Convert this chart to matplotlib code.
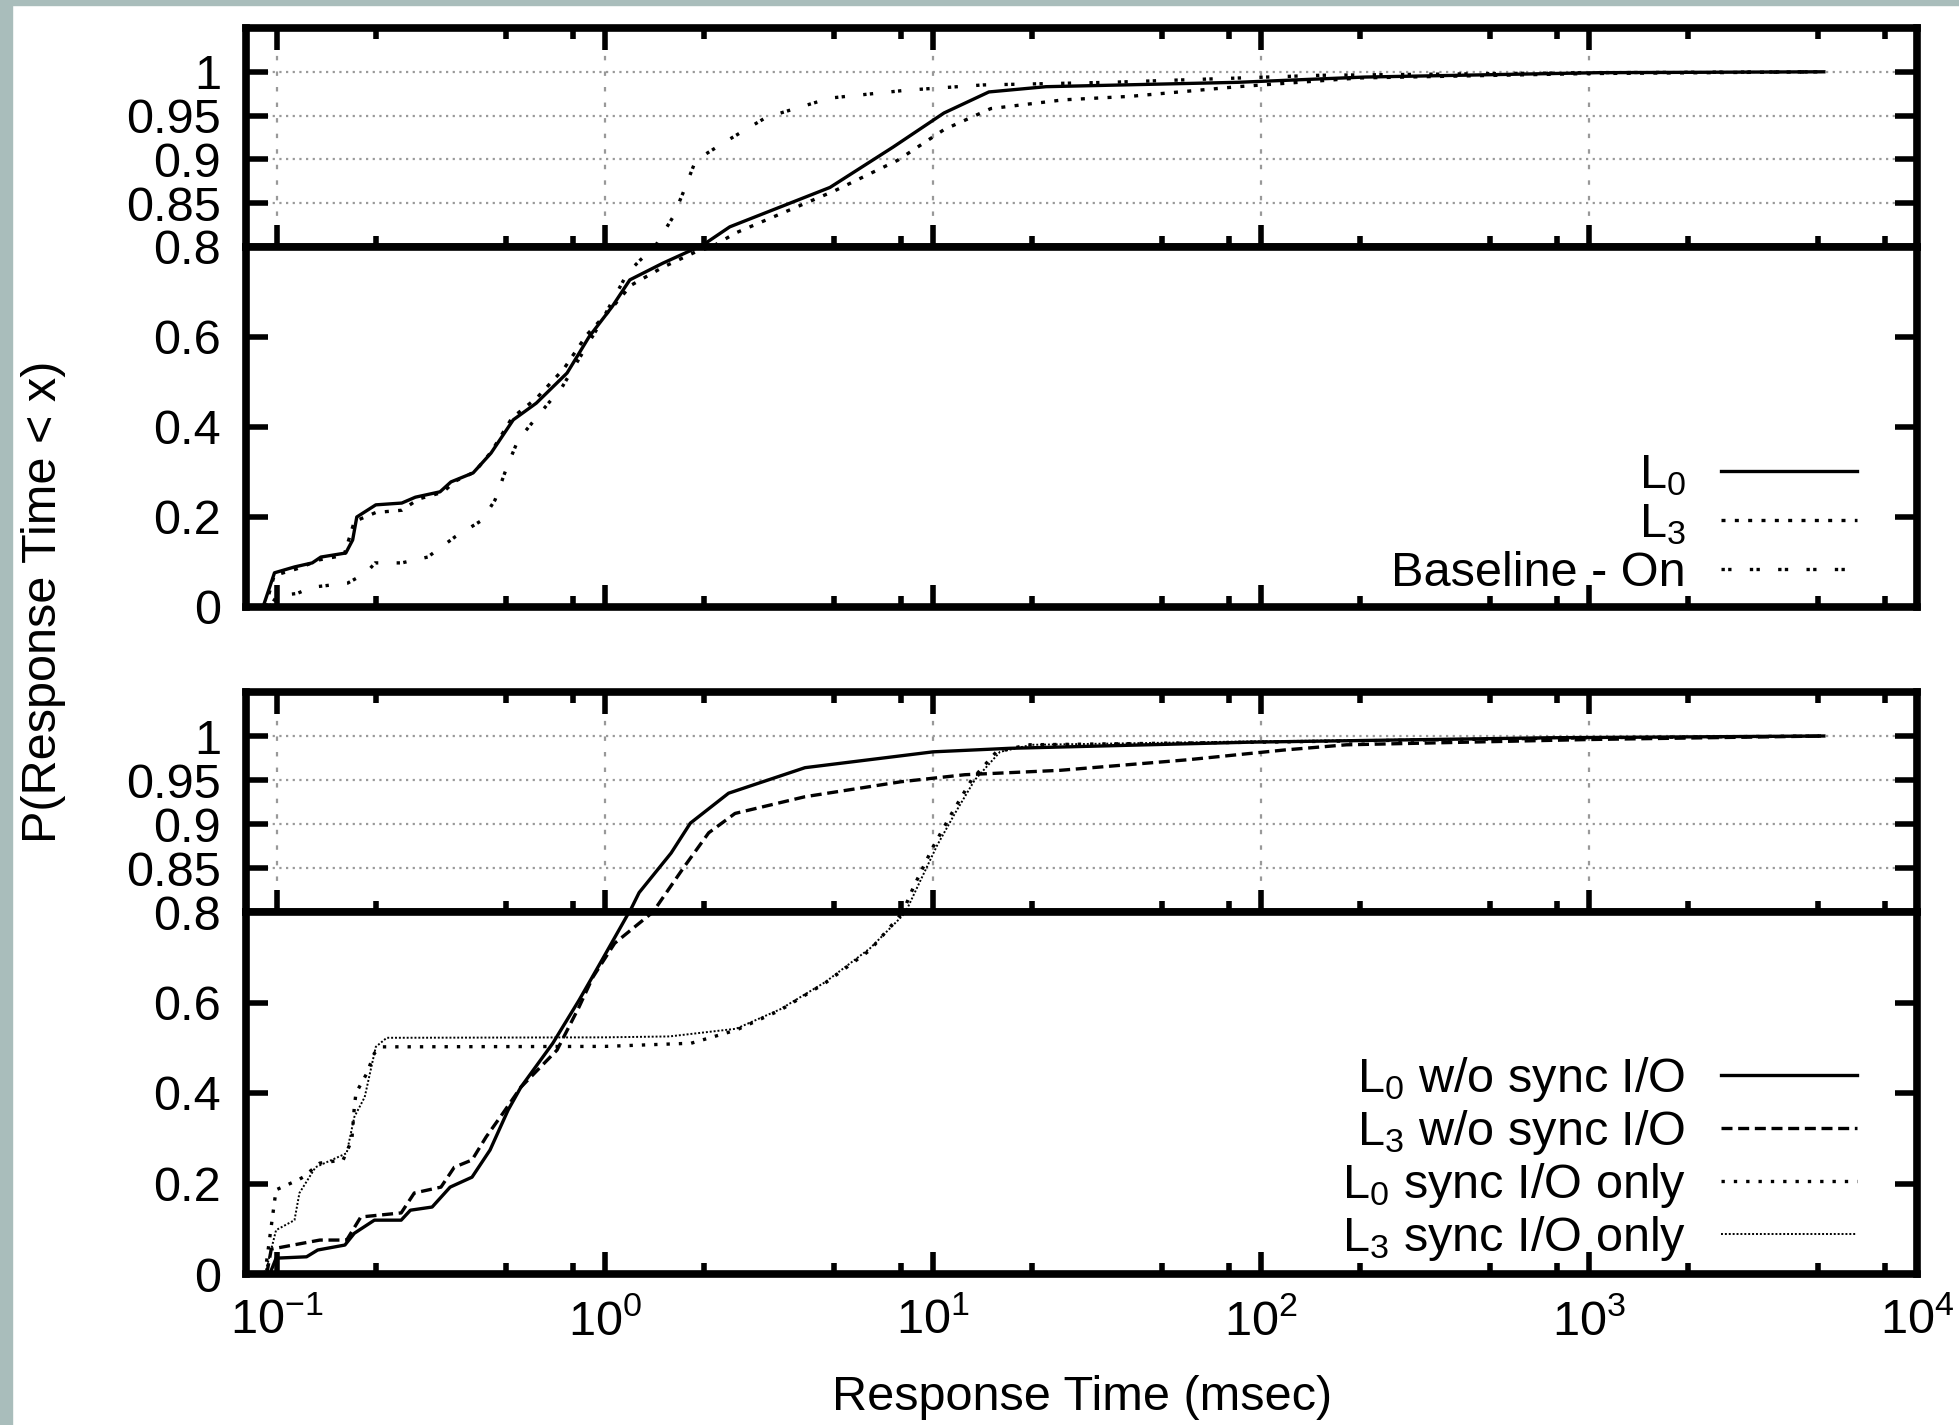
import matplotlib
matplotlib.use("Agg")
import matplotlib.pyplot as plt
from matplotlib.ticker import LogLocator, NullFormatter, FixedLocator, FixedFormatter

plt.rcParams['font.family'] = ['Liberation Sans', 'DejaVu Sans']
plt.rcParams['mathtext.fontset'] = 'custom'
plt.rcParams['mathtext.rm'] = 'Liberation Sans'
plt.rcParams['mathtext.default'] = 'regular'

# ---- top panel data (response time msec, cumulative probability) ----
top_l0_x = [0.0906, 0.0982, 0.113, 0.128, 0.136, 0.162, 0.170, 0.175, 0.20, 0.24, 0.264, 0.314,
            0.339, 0.396, 0.449, 0.525, 0.617, 0.766, 0.893, 1.05, 1.19, 1.50, 1.86, 2.40,
            4.85, 7.55, 10.8, 14.8, 22.1, 85, 207, 1070, 5200]
top_l0_y = [0.0, 0.076, 0.089, 0.098, 0.111, 0.12, 0.149, 0.20, 0.227, 0.231, 0.244, 0.256,
            0.278, 0.298, 0.342, 0.416, 0.453, 0.52, 0.60, 0.667, 0.727, 0.764, 0.795, 0.823,
            0.868, 0.914, 0.953, 0.977, 0.983, 0.988, 0.994, 0.999, 1.0]

top_l3_x = [0.092, 0.098, 0.115, 0.135, 0.16, 0.172, 0.20, 0.24, 0.27, 0.32, 0.35, 0.40, 0.45,
            0.52, 0.62, 0.75, 0.88, 1.05, 1.2, 1.5, 1.9, 2.5, 5.0, 7.8, 10.8, 15.0, 25, 40, 85,
            200, 1000, 5200]
top_l3_y = [0.0, 0.07, 0.085, 0.105, 0.115, 0.19, 0.21, 0.215, 0.24, 0.255, 0.28, 0.30, 0.345,
            0.42, 0.465, 0.53, 0.605, 0.665, 0.715, 0.755, 0.79, 0.816, 0.864, 0.899, 0.934,
            0.958, 0.968, 0.972, 0.983, 0.993, 0.998, 1.0]

base_x = [0.095, 0.10, 0.115, 0.128, 0.164, 0.187, 0.199, 0.24, 0.288, 0.349, 0.422, 0.462,
          0.502, 0.543, 0.634, 0.74, 0.84, 0.967, 1.17, 1.28, 1.47, 1.61, 1.73, 1.89, 2.37,
          3.1, 4.85, 8.3, 14.2, 34.7, 151, 1000, 5200]
base_y = [0.0, 0.025, 0.03, 0.044, 0.053, 0.076, 0.098, 0.098, 0.111, 0.156, 0.193, 0.238,
          0.311, 0.371, 0.431, 0.489, 0.556, 0.63, 0.742, 0.771, 0.81, 0.834, 0.862, 0.899,
          0.922, 0.948, 0.970, 0.979, 0.985, 0.988, 0.996, 0.999, 1.0]

# ---- bottom panel data ----
l0_wo_x = [0.095, 0.0993, 0.123, 0.133, 0.161, 0.172, 0.198, 0.239, 0.255, 0.297, 0.337, 0.393,
           0.446, 0.506, 0.554, 0.693, 0.833, 0.979, 1.18, 1.27, 1.59, 1.82, 2.38, 4.07, 10.0,
           17.1, 93, 760, 5200]
l0_wo_y = [0.0, 0.035, 0.038, 0.053, 0.064, 0.09, 0.119, 0.119, 0.141, 0.148, 0.192, 0.214,
           0.274, 0.362, 0.413, 0.51, 0.605, 0.694, 0.798, 0.822, 0.867, 0.901, 0.935, 0.964,
           0.982, 0.986, 0.993, 0.998, 1.0]

l3_wo_x = [0.093, 0.096, 0.135, 0.163, 0.180, 0.239, 0.262, 0.316, 0.347, 0.393, 0.434, 0.489,
           0.554, 0.714, 0.833, 0.918, 1.07, 1.40, 1.74, 2.07, 2.49, 4.07, 7.98, 12.5, 24.4,
           59.8, 117, 182, 1000, 5200]
l3_wo_y = [0.0, 0.055, 0.075, 0.075, 0.126, 0.135, 0.179, 0.192, 0.236, 0.252, 0.303, 0.356,
           0.413, 0.495, 0.59, 0.656, 0.731, 0.80, 0.851, 0.89, 0.912, 0.931, 0.948, 0.956,
           0.961, 0.973, 0.984, 0.99, 0.996, 1.0]

l0_sync_x = [0.092, 0.093, 0.0993, 0.116, 0.12, 0.135, 0.159, 0.169, 0.172, 0.174, 0.188, 0.198,
             0.21, 1.0, 1.83, 2.51, 3.42, 4.69, 6.43, 7.71, 8.71, 10.0, 11.4, 13.1, 15.6, 19.5,
             100, 1000, 5200]
l0_sync_y = [0.0, 0.03, 0.186, 0.208, 0.214, 0.245, 0.252, 0.296, 0.369, 0.40, 0.444, 0.488,
             0.502, 0.503, 0.51, 0.539, 0.583, 0.643, 0.716, 0.782, 0.828, 0.874, 0.912, 0.95,
             0.982, 0.99, 0.993, 0.998, 1.0]

l3_sync_x = [0.092, 0.093, 0.0993, 0.113, 0.117, 0.131, 0.163, 0.172, 0.185, 0.192, 0.20, 0.216,
             1.0, 1.57, 2.51, 3.42, 4.69, 6.43, 7.9, 9.0, 10.3, 11.7, 13.4, 16.0, 20, 100, 1000,
             5200]
l3_sync_y = [0.0, 0.015, 0.097, 0.119, 0.179, 0.236, 0.267, 0.347, 0.391, 0.444, 0.502, 0.522,
             0.523, 0.525, 0.542, 0.585, 0.645, 0.72, 0.785, 0.83, 0.876, 0.913, 0.95, 0.982,
             0.99, 0.994, 0.998, 1.0]

top_labels = ["L$_0$", "L$_3$", "Baseline - On"]
bottom_labels = ["L$_0$ w/o sync I/O", "L$_3$ w/o sync I/O", "L$_0$ sync I/O only", "L$_3$ sync I/O only"]

FS = 35
W, H = 1959, 1425
x_left, x_right = 246, 1917

fig = plt.figure(figsize=(W / 100, H / 100), dpi=100)
fig.patches.append(plt.Rectangle((0, 0), 12 / W, 1, transform=fig.transFigure, color="#a9bdbb", zorder=0))
fig.patches.append(plt.Rectangle((0, 1 - 5 / H), 1, 5 / H, transform=fig.transFigure, color="#a9bdbb", zorder=0))


def make_panel(top_px, sep_px, bot_px, show_xlabels):
    l = x_left / W
    w = (x_right - x_left) / W
    ax_hi = fig.add_axes([l, 1 - sep_px / H, w, (sep_px - top_px) / H])
    ax_lo = fig.add_axes([l, 1 - bot_px / H, w, (bot_px - sep_px) / H])
    for ax in (ax_hi, ax_lo):
        ax.set_xscale("log")
        ax.set_xlim(0.0804, 1e4)
        for s in ax.spines.values():
            s.set_linewidth(5.5)
        ax.xaxis.set_major_locator(LogLocator(base=10, numticks=20))
        ax.xaxis.set_minor_locator(LogLocator(base=10, subs=[2, 5, 8], numticks=20))
        ax.xaxis.set_minor_formatter(NullFormatter())
        ax.tick_params(which="major", direction="in", length=16, width=4, labelsize=FS)
        ax.tick_params(which="minor", direction="in", length=8, width=4)
        ax.tick_params(axis="y", pad=18)
    ax_hi.set_ylim(0.8, 1.05)
    ax_hi.yaxis.set_major_locator(FixedLocator([0.8, 0.85, 0.9, 0.95, 1.0]))
    ax_hi.yaxis.set_major_formatter(FixedFormatter(["0.8", "0.85", "0.9", "0.95", "1"]))
    ax_hi.tick_params(axis="x", which="both", top=True, bottom=True, labelbottom=False)
    ax_hi.tick_params(axis="y", left=True, right=True)
    ax_hi.grid(True, axis="y", which="major", color="#999999", linestyle=(0, (1, 2)), linewidth=1.6)
    ax_hi.grid(True, axis="x", which="major", color="#999999", linestyle=(0, (2, 5)), linewidth=1.6)

    ax_lo.set_ylim(0, 0.8)
    ax_lo.yaxis.set_major_locator(FixedLocator([0, 0.2, 0.4, 0.6]))
    ax_lo.yaxis.set_major_formatter(FixedFormatter(["0", "0.2", "0.4", "0.6"]))
    ax_lo.tick_params(axis="x", which="both", top=False, bottom=True, labelbottom=show_xlabels, pad=18)
    ax_lo.tick_params(axis="y", left=True, right=True)
    return ax_hi, ax_lo


ax1_hi, ax1_lo = make_panel(28, 247, 607, False)
ax2_hi, ax2_lo = make_panel(692, 912, 1274, True)

LW = 2.4
top_series = [
    (top_l0_x, top_l0_y, dict(linestyle="-", linewidth=LW)),
    (top_l3_x, top_l3_y, dict(linestyle=(0, (1.2, 2.8)), linewidth=LW)),
    (base_x, base_y, dict(linestyle=(0, (1, 1, 1, 5.5)), linewidth=LW)),
]
bottom_series = [
    (l0_wo_x, l0_wo_y, dict(linestyle="-", linewidth=LW)),
    (l3_wo_x, l3_wo_y, dict(linestyle=(0, (3.3, 1.7)), linewidth=LW)),
    (l0_sync_x, l0_sync_y, dict(linestyle=(0, (1, 2.7)), linewidth=LW)),
    (l3_sync_x, l3_sync_y, dict(linestyle=(0, (1, 1)), linewidth=1.4)),
]

for (ax_hi, ax_lo), series, labels in [((ax1_hi, ax1_lo), top_series, top_labels),
                                      ((ax2_hi, ax2_lo), bottom_series, bottom_labels)]:
    handles = []
    for (xs, ys, st), lab in zip(series, labels):
        ax_hi.plot(xs, ys, color="black", **st)
        h, = ax_lo.plot(xs, ys, color="black", label=lab, **st)
        handles.append(h)
    ax_lo.legend(handles=handles, loc="lower right", bbox_to_anchor=(0.964, 0.03),
                 frameon=False, markerfirst=False, fontsize=FS, handlelength=2.8,
                 handletextpad=0.72, labelspacing=0.08, borderpad=0, borderaxespad=0)

fig.text(44 / W, 1 - 602 / H, "P(Response Time < x)", rotation=90, ha="center", va="center", fontsize=FS)
fig.text(1082 / W, 1 - 1398 / H, "Response Time (msec)", ha="center", va="center", fontsize=FS)

fig.savefig("out.png", dpi=100)
